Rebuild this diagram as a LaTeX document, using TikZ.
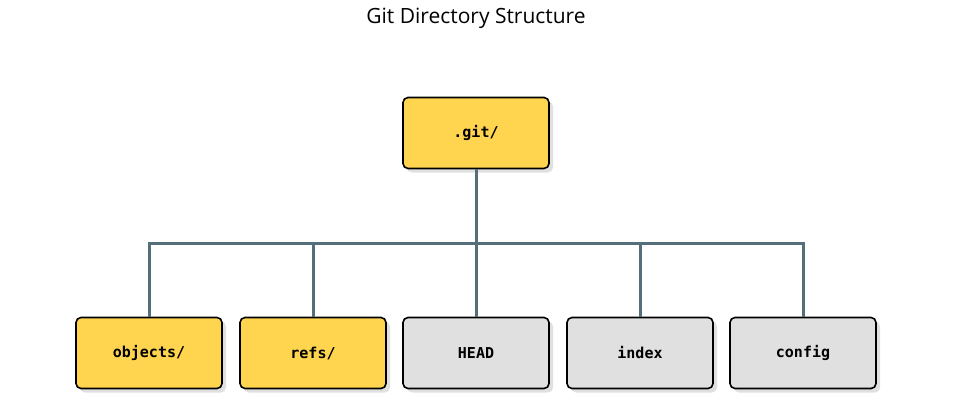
\documentclass[tikz,border=0pt]{standalone}
\usepackage{fontspec}
\setmainfont{Open Sans}
\newfontfamily\boxfont{DejaVu Sans Mono}
\usetikzlibrary{positioning,shadows}
\definecolor{dirfill}{HTML}{FFD54F}
\definecolor{filefill}{HTML}{E0E0E0}
\definecolor{linkcol}{HTML}{546E7A}
\tikzset{
  entry/.style={draw=black, line width=1.6pt, rounded corners=5pt,
    minimum width=146pt, minimum height=71pt, inner sep=0pt,
    font=\boxfont\bfseries\fontsize{15}{18}\selectfont,
    drop shadow={shadow xshift=4pt, shadow yshift=-4pt, fill=black!12, opacity=1}},
  dir/.style={entry, fill=dirfill},
  file/.style={entry, fill=filefill},
  link/.style={draw=linkcol, line width=3pt}
}
\begin{document}
\begin{tikzpicture}[x=1pt,y=-1pt]
  \useasboundingbox (0,0) rectangle (953,404);
  \node[font=\fontsize{21}{25}\selectfont] (title) at (476,18) {Git Directory Structure};
  \node[dir] (git) at (476,133) {.git/};
  \node[dir]  (objects) at (149,353) {objects/};
  \node[dir]  (refs)    at (313,353) {refs/};
  \node[file] (head)    at (476,353) {HEAD};
  \node[file] (index)   at (640,353) {index};
  \node[file] (config)  at (803,353) {config};
  \coordinate (bus) at (476,243);
  \begin{scope}[on background layer/.style={}]
  \draw[link] (git.south) -- (bus);
  \draw[link] (objects.north) |- (bus) -| (config.north);
  \foreach \n in {refs,head,index}
    \draw[link] (\n.north) -- (\n.north |- bus);
  \end{scope}
\end{tikzpicture}
\end{document}
